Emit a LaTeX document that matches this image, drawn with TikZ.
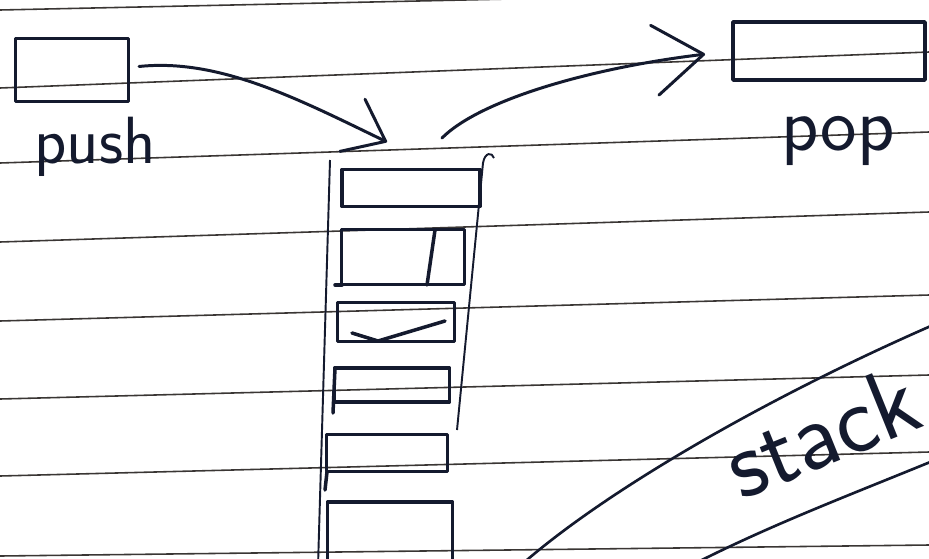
\documentclass[tikz,border=0pt]{standalone}
\usepackage{fontspec}
\usepackage{tikz}
\usetikzlibrary{arrows.meta}
\definecolor{ink}{HTML}{141A2E}
\definecolor{ruling}{HTML}{3A3634}

\begin{document}
\begin{tikzpicture}[x=.02cm,y=-.02cm,
  pen/.style={draw=ink,line width=2pt,line cap=round,line join=round},
  cell/.style={pen,rectangle,inner sep=0pt},
  rail/.style={draw=ink,line width=1.1pt},
  hand/.style={draw=ink,line width=1.7pt,line cap=round},
  word/.style={text=ink,font=\sffamily}]
  \clip (0,0) rectangle (929,558);
  \fill[white] (0,0) rectangle (929,558);
  \foreach \a/\b in {10/-10,88/52,163/132,242/212,321/295,399/375,476/452,556/545}
    \draw[ruling,line width=.9pt] (0,\a) -- (929,\b);

  \node[cell,minimum width=113*.02cm,minimum height=63*.02cm] (pushbox) at (72,70) {};
  \node[word,anchor=base,font=\sffamily\fontsize{38}{40}\selectfont] (pushlabel) at (95,163) {push};
  \node[cell,minimum width=192*.02cm,minimum height=58*.02cm] (popbox) at (829,51) {};
  \node[word,anchor=base,font=\sffamily\fontsize{44}{46}\selectfont] (poplabel) at (838,150) {pop};

  \draw[rail] (330,160) -- (318,566);
  \draw[rail] (483,163) -- (457,430);
  \draw[rail] (483,163) .. controls (485,152) and (492,152) .. (494,158);
  \foreach \n/\cx/\cy/\w/\h in {1/411/188/138/37,2/403/257/123/55,3/396/322/117/39,
    4/392/385/115/34,5/387/453/121/37,6/390/541/125/78}
    \node[cell,minimum width=\w*.02cm,minimum height=\h*.02cm] (cell\n) at (\cx,\cy) {};
  \draw[pen] (435,230) -- (427,285);
  \draw[pen] (335,285) -- (342,285);
  \draw[pen] (352,333) -- (378,341) -- (445,321);
  \draw[pen] (335,368) -- (333,413);
  \draw[pen] (327,472) -- (325,490);

  \coordinate (stackin) at (387,142);
  \coordinate (stackout) at (442,138);
  \draw[hand,-{Straight Barb[length=21pt,width=33pt,round]}]
    ([xshift=5pt,yshift=2pt]pushbox.east) .. controls (220,58) and (300,100) .. (stackin);
  \draw[hand,-{Straight Barb[length=28pt,width=40pt,round]},shorten >=15pt]
    (stackout) .. controls (480,100) and (590,68) .. (popbox.west);

  \draw[hand,line width=1.5pt] (520,566) .. controls (600,495) and (760,400) .. (940,322);
  \draw[hand,line width=1.5pt] (690,566) .. controls (770,525) and (850,495) .. (940,458);
  \node[word,anchor=base west,rotate=22,font=\sffamily\fontsize{56}{60}\selectfont\addfontfeature{LetterSpace=12}] (stacklabel) at (736,503) {stack};
\end{tikzpicture}
\end{document}
